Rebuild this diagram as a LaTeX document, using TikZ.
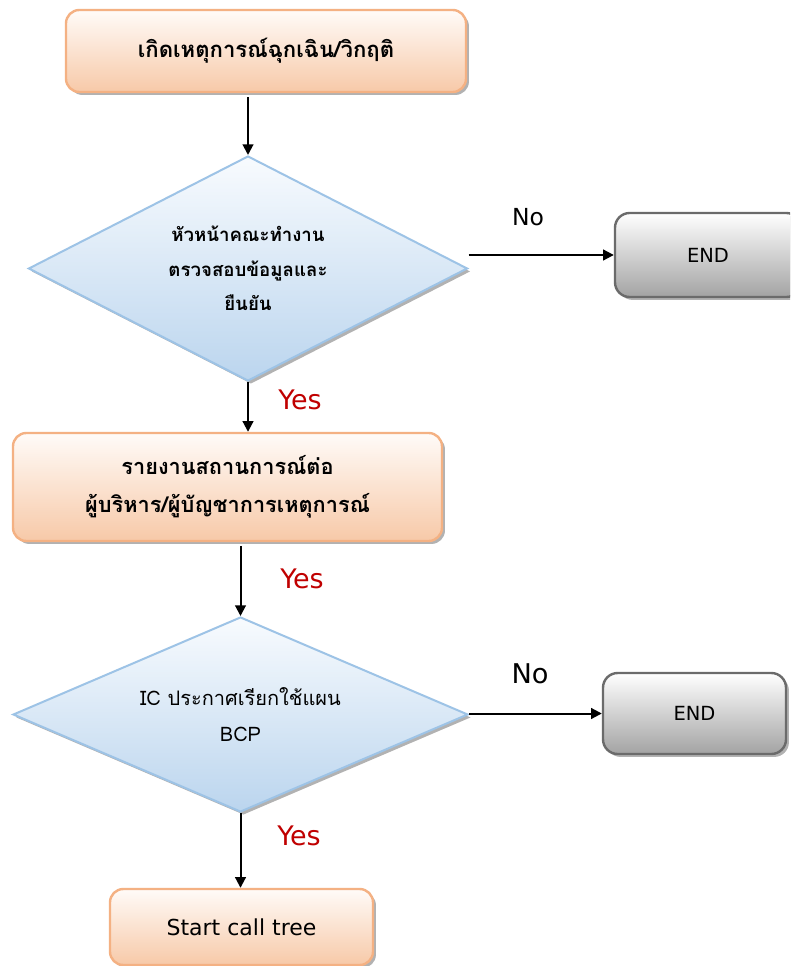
\documentclass[tikz,border=0pt]{standalone}
\usepackage{fontspec}
\setmainfont[Script=Thai]{Loma}
\newfontfamily\latinlabel{DejaVu Sans}
\usetikzlibrary{shapes.geometric,shadows,arrows.meta}

\definecolor{boxtop}{HTML}{FFFBF8}
\definecolor{boxbottom}{HTML}{F7C9A8}
\definecolor{boxedge}{HTML}{F4B183}
\definecolor{dtop}{HTML}{F8FBFE}
\definecolor{dbottom}{HTML}{BBD5EE}
\definecolor{dedge}{HTML}{9DC3E6}
\definecolor{endtop}{HTML}{FFFFFF}
\definecolor{endbottom}{HTML}{A3A3A3}
\definecolor{endedge}{HTML}{6B6B6B}
\definecolor{yesred}{HTML}{C00000}

\tikzset{
  softshadow/.style={drop shadow={shadow xshift=2.2pt, shadow yshift=-2.2pt, fill=black, opacity=0.3}},
  flowbox/.style={rectangle, rounded corners=10pt, draw=boxedge, line width=1.8pt,
    top color=boxtop, bottom color=boxbottom, softshadow, align=center, inner sep=0pt},
  decision/.style={diamond, aspect=2.5, draw=dedge, line width=1.5pt, top color=dtop, bottom color=dbottom,
    softshadow, align=center, inner sep=0pt},
  endbox/.style={rectangle, rounded corners=11pt, draw=endedge, line width=1.8pt,
    top color=endtop, bottom color=endbottom, softshadow, align=center, inner sep=0pt,
    font=\latinlabel\fontsize{14.6}{18}\selectfont},
  flow/.style={line width=1.5pt, -{Triangle[length=8pt,width=8pt]}},
  yeslabel/.style={text=yesred, font=\latinlabel\fontsize{20.2}{24}\selectfont},
  nolabel/.style={text=black, font=\latinlabel\fontsize{17.6}{20}\selectfont},
}

\begin{document}
\begin{tikzpicture}[x=0.75pt,y=-0.75pt]
\useasboundingbox (0,0) rectangle (790,966);
\fill[white] (0,0) rectangle (790,966);
\clip (0,0) rectangle (790,966);

% process boxes
\node[flowbox, minimum width=300pt, minimum height=61.5pt,
      font=\bfseries\fontsize{16.6}{28}\selectfont] (b1) at (266,51)
  {เกิดเหตุการณ์ฉุกเฉิน/วิกฤติ};
\node[flowbox, minimum width=321.75pt, minimum height=81pt,
      font=\bfseries\fontsize{16.3}{28.5}\selectfont] (b2) at (227.5,487)
  {รายงานสถานการณ์ต่อ\\ผู้บริหาร/ผู้บัญชาการเหตุการณ์};
\node[flowbox, minimum width=197.25pt, minimum height=57pt,
      font=\latinlabel\fontsize{16.5}{20}\selectfont] (b3) at (241.5,927)
  {Start call tree};

% decisions
\node[decision, minimum width=329.25pt, minimum height=168.75pt,
      font=\bfseries\fontsize{14}{26}\selectfont] (d1) at (248,268.5)
  {หัวหน้าคณะทำงาน\\ตรวจสอบข้อมูลและ\\ยืนยัน};
\node[decision, minimum width=341.25pt, minimum height=146.25pt,
      font=\fontsize{15}{27}\selectfont] (d2) at (240.5,714.5)
  {IC ประกาศเรียกใช้แผน\\BCP};

% terminators
\node[endbox, minimum width=139.5pt, minimum height=63pt] (e1) at (708,255) {END};
\node[endbox, minimum width=137.25pt, minimum height=60.75pt] (e2) at (694.5,713.5) {END};

% connectors
\draw[flow] (d1.north |- b1.south) ++(0,-3pt) -- (d1.north);
\draw[flow] (d1.south) -- (d1.south |- b2.north);
\draw[flow] (d2.north |- b2.south) ++(0,-3pt) -- (d2.north);
\draw[flow] (d2.south) -- (d2.south |- b3.north);
\draw[flow] (d1.east |- e1.west) -- (e1.west);
\draw[flow] (d2.east |- e2.west) -- (e2.west);

% branch labels
\node[nolabel] (no1) at (528,217) {No};
\node[nolabel, font=\latinlabel\fontsize{20.4}{24}\selectfont] (no2) at (530,674) {No};
\node[yeslabel] (yes1) at (300,400) {Yes};
\node[yeslabel] (yes2) at (302,579) {Yes};
\node[yeslabel] (yes3) at (299,836) {Yes};
\end{tikzpicture}
\end{document}
